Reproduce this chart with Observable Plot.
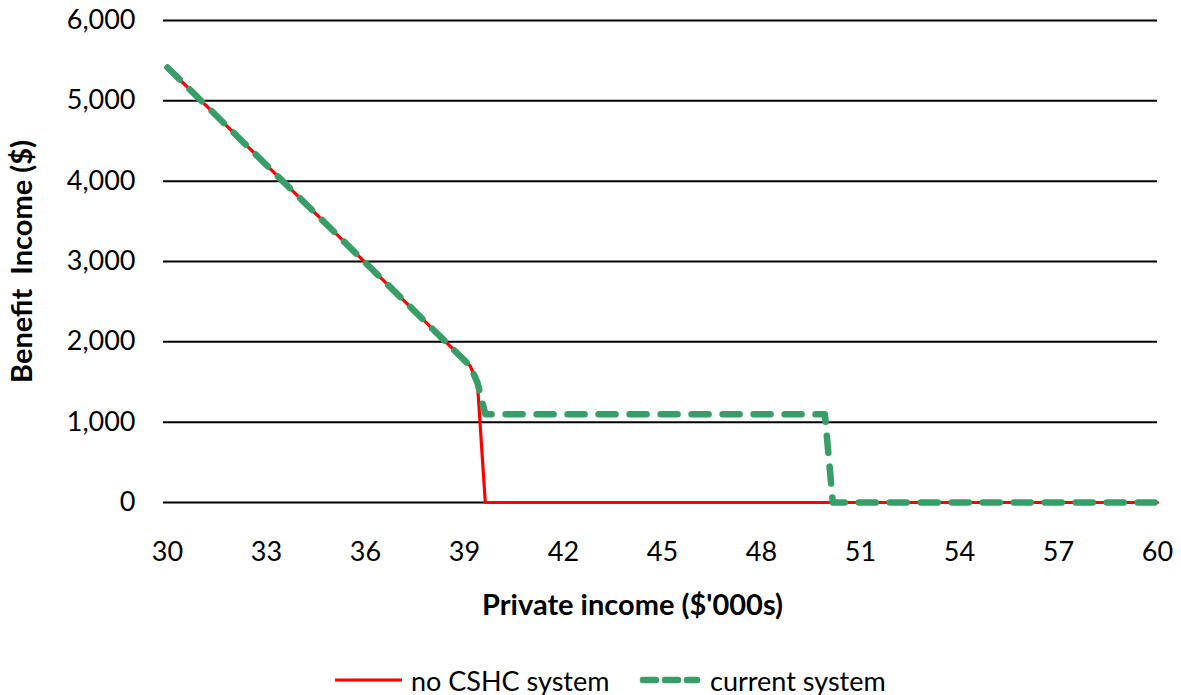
<!DOCTYPE html>
<html><head><meta charset="utf-8">
<script src="https://cdn.jsdelivr.net/npm/d3@7"></script>
<script src="https://cdn.jsdelivr.net/npm/@observablehq/plot@0.6"></script>
<style>
body{margin:0;background:#fff;font-family:Lato,sans-serif;}
#legend{position:relative;height:30px;font-size:27px;color:#000;}
.item{position:absolute;top:0;display:flex;align-items:center;height:30px;}
.item svg{margin-right:9px;}
</style>
</head><body><div id="chart"></div><div id="legend"></div>
<script>
// Private income ($'000s) and benefit income ($)
const incomeNoCSHC = [30, 39.17, 39.39, 39.63, 60];
const benefitNoCSHC = [5415, 1700, 1495, 0, 0];
const incomeCurrent = [30, 39.17, 39.39, 39.63, 49.92, 50.16, 60];
const benefitCurrent = [5415, 1700, 1495, 1100, 1100, 0, 0];
const xTicks = [30, 33, 36, 39, 42, 45, 48, 51, 54, 57, 60];
const yTicks = [0, 1000, 2000, 3000, 4000, 5000, 6000];
const seriesNames = ["no CSHC system", "current system"];
const colors = ["#ff0000", "#389e68"];

const noCSHC = incomeNoCSHC.map((x, i) => ({x, y: benefitNoCSHC[i]}));
const current = incomeCurrent.map((x, i) => ({x, y: benefitCurrent[i]}));

const chart = Plot.plot({
  width: 1181,
  height: 665,
  marginLeft: 167,
  marginRight: 24,
  marginTop: 20,
  marginBottom: 163,
  style: {fontFamily: "Lato, sans-serif", fontSize: "27px", color: "#000", background: "#fff"},
  x: {domain: [30, 60]},
  y: {domain: [0, 6000]},
  marks: [
    Plot.ruleY(yTicks, {stroke: "#000", strokeWidth: 2, insetLeft: -4}),
    Plot.axisY({ticks: yTicks, tickSize: 0, tickPadding: 32, tickFormat: d3.format(","), label: null}),
    Plot.axisX({ticks: xTicks, tickSize: 0, tickPadding: 39, label: null}),
    Plot.line(noCSHC, {x: "x", y: "y", stroke: colors[0], strokeWidth: 3.2, strokeLinejoin: "round"}),
    Plot.line(current, {x: "x", y: "y", stroke: colors[1], strokeWidth: 6.5, strokeDasharray: "17,14", strokeLinecap: "round", strokeLinejoin: "round"}),
    Plot.text(["Private income ($'000s)"], {frameAnchor: "bottom", dx: -30, dy: 112, fontSize: 29, fontWeight: "bold", fill: "#000"}),
    Plot.text(["Benefit  Income ($)"], {frameAnchor: "left", textAnchor: "middle", dx: -145, rotate: -90, fontSize: 29, fontWeight: "bold", fill: "#000"})
  ]
});
document.getElementById("chart").appendChild(chart);

const legend = document.getElementById("legend");
const lefts = [335, 639];
seriesNames.forEach((name, i) => {
  const item = document.createElement("div");
  item.className = "item";
  item.style.left = lefts[i] + "px";
  const w = i === 0 ? 67 : 62;
  const dash = i === 0 ? "" : ' stroke-dasharray="13,9" stroke-linecap="round"';
  const sw = i === 0 ? 3.2 : 6.5;
  item.innerHTML = `<svg width="${w}" height="12"><line x1="${i ? 4 : 0}" x2="${i ? w - 4 : w}" y1="6" y2="6" stroke="${colors[i]}" stroke-width="${sw}"${dash}/></svg><span>${name}</span>`;
  legend.appendChild(item);
});
</script>
</body></html>
